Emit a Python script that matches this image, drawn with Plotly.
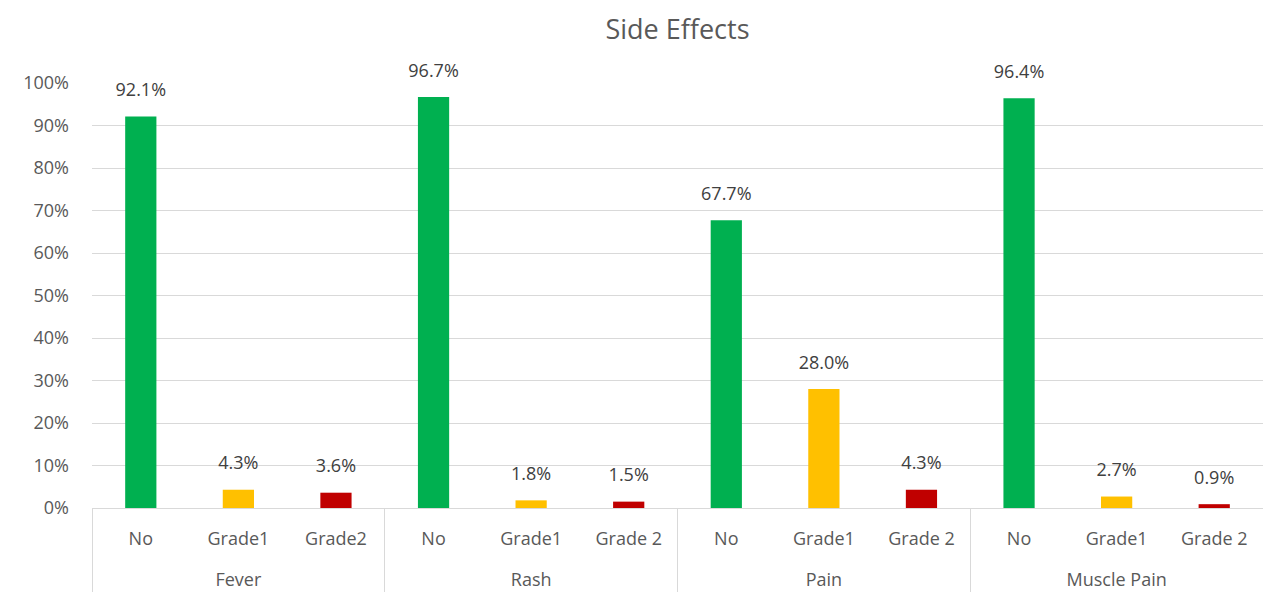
import plotly.graph_objects as go

# Side-effect categories and severity grades
groups = ["Fever", "Rash", "Pain", "Muscle Pain"]
grade_tick_text = {
    "Fever": ["No", "Grade1", "Grade2"],
    "Rash": ["No", "Grade1", "Grade 2"],
    "Pain": ["No", "Grade1", "Grade 2"],
    "Muscle Pain": ["No", "Grade1", "Grade 2"],
}

# Share of patients per grade (fraction)
fever = [0.921, 0.043, 0.036]
rash = [0.967, 0.018, 0.015]
pain = [0.677, 0.280, 0.043]
muscle_pain = [0.964, 0.027, 0.009]

grade_colors = ["#00b050", "#ffc000", "#c00000"]

values_by_group = [fever, rash, pain, muscle_pain]

outer, inner, values, colors = [], [], [], []
for g, vals in zip(groups, values_by_group):
    for label, v, c in zip(grade_tick_text[g], vals, grade_colors):
        outer.append(g)
        # taller blank second line adds room between the two label rows
        inner.append(label + "<br><span style='font-size:38px'> </span>")
        values.append(v)
        colors.append(c)

n_bars = len(values)

fig = go.Figure()

fig.add_trace(
    go.Bar(
        x=[outer, inner],
        y=values,
        marker=dict(color=colors, line=dict(width=0)),
        width=0.32,
        hoverinfo="y",
    )
)

# value labels floating above each bar
fig.add_trace(
    go.Scatter(
        x=[outer, inner],
        y=values,
        mode="markers+text",
        marker=dict(size=24, opacity=0),
        text=[f"{v:.1%}" for v in values],
        textposition="top center",
        textfont=dict(family="Open Sans", size=18, color="#404040"),
        cliponaxis=False,
        hoverinfo="skip",
    )
)

fig.update_layout(
    width=1263,
    height=599,
    margin=dict(l=92, r=0, t=83, b=91),
    paper_bgcolor="white",
    plot_bgcolor="white",
    showlegend=False,
    title=dict(
        text="Side Effects",
        x=0.5,
        xref="paper",
        y=0.95,
        yanchor="middle",
        font=dict(family="Open Sans", size=27, color="#595959"),
    ),
    font=dict(family="Open Sans", color="#595959"),
)

fig.update_xaxes(
    type="multicategory",
    range=[-0.5, n_bars - 0.5],
    showline=True,
    linecolor="#d9d9d9",
    linewidth=1,
    showgrid=False,
    showdividers=True,
    dividercolor="#d9d9d9",
    dividerwidth=1,
    tickfont=dict(family="Open Sans", size=18, color="#595959"),
    ticks="",
    ticklabelstandoff=14,
)

fig.update_yaxes(
    range=[0, 1.0],
    tickformat=".0%",
    dtick=0.1,
    showgrid=True,
    gridcolor="#d9d9d9",
    gridwidth=1,
    zeroline=False,
    showline=False,
    tickfont=dict(family="Open Sans", size=18, color="#595959"),
    ticklabelstandoff=22,
)

fig.write_html("out.html")
